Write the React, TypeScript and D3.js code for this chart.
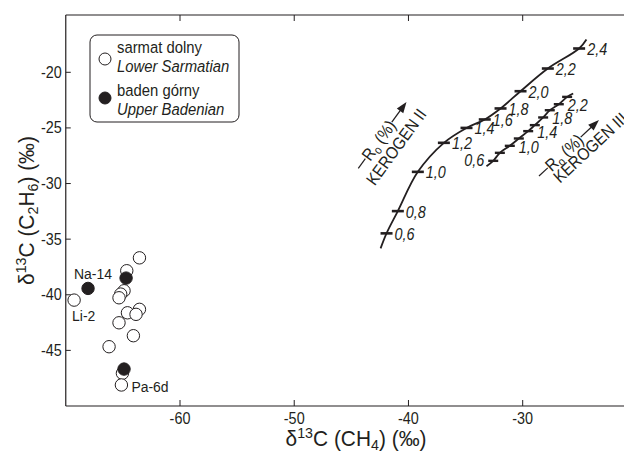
import React from "react";
import * as d3 from "d3";

// ---- data ----
const xTicks = [-60, -50, -40, -30];
const yTicks = [-20, -25, -30, -35, -40, -45];

// Lower Sarmatian (open circles): δ13C CH4 / δ13C C2H6
const lowerSarmatianX = [-69.27, -63.55, -64.66, -64.9, -65.19, -65.34, -64.6, -63.55, -63.85, -65.34, -64.08, -66.21, -65.04, -65.13];
const lowerSarmatianY = [-40.48, -36.68, -37.84, -39.64, -39.94, -40.27, -41.62, -41.31, -41.76, -42.52, -43.68, -44.67, -47.06, -48.11];

// Upper Badenian (filled circles)
const upperBadenianX = [-68.05, -64.72, -64.9];
const upperBadenianY = [-39.43, -38.5, -46.68];

// sample labels
const sampleNames = ["Na-14", "Li-2", "Pa-6d"];
const sampleX = [-68.05, -69.27, -65.13];
const sampleY = [-39.43, -40.48, -48.11];

// Kerogen II maturity line
const kerIIRo = ["0,6", "0,8", "1,0", "1,2", "1,4", "1,6", "1,8", "2,0", "2,2", "2,4"];
const kerIIX = [-41.92, -40.93, -39.18, -36.9, -34.92, -33.32, -31.94, -30.19, -27.8, -25.06];
const kerIIY = [-34.48, -32.48, -28.95, -26.34, -25.0, -24.24, -23.25, -21.7, -19.66, -17.86];
const kerIIEndsX = [-42.44, -24.42];
const kerIIEndsY = [-35.83, -17.05];

// Kerogen III maturity line
const kerIIIRo = ["0,6", "0,8", "1,0", "1,2", "1,4", "1,6", "1,8", "2,0", "2,2", "2,4"];
const kerIIIX = [-32.58, -32.0, -31.13, -30.34, -29.52, -28.94, -28.21, -27.63, -26.84, -26.11];
const kerIIIY = [-27.96, -27.24, -26.61, -25.95, -25.29, -24.75, -24.06, -23.41, -22.87, -22.21];
const kerIIIEndsX = [-33.17, -25.58];
const kerIIIEndsY = [-28.44, -21.9];
const kerIIILabelled = ["0,6", "1,0", "1,4", "1,8", "2,2"];

const FONT = "'Liberation Sans', Arial, sans-serif";
const SX = 0.9;
const ink = "#231f20";

type TProps = {
  x: number;
  y: number;
  size?: number;
  italic?: boolean;
  anchor?: "start" | "middle" | "end";
  sx?: number;
  children?: React.ReactNode;
};

function T({ x, y, size = 16, italic = false, anchor = "start", sx = SX, children }: TProps) {
  return (
    <text
      transform={`translate(${x},${y}) scale(${sx},1)`}
      x={0}
      y={0}
      fontSize={size}
      fontStyle={italic ? "italic" : "normal"}
      fontFamily={FONT}
      textAnchor={anchor}
      fill={ink}
    >
      {children}
    </text>
  );
}

export default function App() {
  const W = 624, H = 452;
  const x = d3.scaleLinear().domain([-60, -30]).range([180, 522.7]);
  const y = d3.scaleLinear().domain([-50, -20]).range([406, 72.3]);
  const left = x(-70), bottom = y(-50), top = 15, right = W;

  const line = d3.line<[number, number]>().x(d => x(d[0])).y(d => y(d[1])).curve(d3.curveCatmullRom.alpha(0.5));

  const ptsII: [number, number][] = [[kerIIEndsX[0], kerIIEndsY[0]], ...kerIIX.map((v, i) => [v, kerIIY[i]] as [number, number]), [kerIIEndsX[1], kerIIEndsY[1]]];
  const ptsIII: [number, number][] = [[kerIIIEndsX[0], kerIIIEndsY[0]], ...kerIIIX.map((v, i) => [v, kerIIIY[i]] as [number, number]), [kerIIIEndsX[1], kerIIIEndsY[1]]];

  const labelOffsets: Record<string, [number, number]> = {
    "Na-14": [-14, -9],
    "Li-2": [-2, 21],
    "Pa-6d": [10, 7],
  };

  const roLabel = (tx: number, ty: number, angle: number, kx: number, ky: number, name: string) => (
    <g transform={`translate(${tx},${ty}) rotate(${angle})`}>
      <line x1={0} y1={0} x2={12} y2={0} stroke={ink} strokeWidth={1.2} />
      <T x={12} y={6} size={17}>
        R<tspan fontSize={12} dy={3}>o</tspan><tspan dy={-3}> (%)</tspan>
      </T>
      <line x1={57} y1={0} x2={74} y2={0} stroke={ink} strokeWidth={1.3} />
      <path d="M82,0 L71,-4 L71,4 Z" fill={ink} />
      <T x={kx} y={ky} size={17}>{name}</T>
    </g>
  );

  return (
    <svg width={W} height={H} style={{ position: "absolute", left: 0, top: 0, background: "#fff" }}>
      <rect x={0} y={0} width={W} height={H} fill="#fff" />
      {/* frame */}
      <line x1={left} y1={top} x2={left} y2={bottom} stroke={ink} strokeWidth={1.2} />
      <line x1={left} y1={bottom} x2={right} y2={bottom} stroke={ink} strokeWidth={1.2} />
      <line x1={left} y1={top} x2={right} y2={top} stroke={ink} strokeWidth={1.2} />
      {xTicks.map(t => (
        <g key={"xt" + t}>
          <line x1={x(t)} x2={x(t)} y1={bottom} y2={bottom - 6} stroke={ink} strokeWidth={1} />
          <line x1={x(t)} x2={x(t)} y1={top} y2={top + 6} stroke={ink} strokeWidth={1} />
          <T x={x(t)} y={424} size={16} anchor="middle">{t}</T>
        </g>
      ))}
      {yTicks.map(t => (
        <g key={"yt" + t}>
          <line x1={left} x2={left + 5} y1={y(t)} y2={y(t)} stroke={ink} strokeWidth={1} />
          <T x={left - 4} y={y(t) + 5.5} size={16} anchor="end">{t}</T>
        </g>
      ))}
      {/* axis titles */}
      <T x={356} y={446} size={22} sx={0.95} anchor="middle">
        δ<tspan fontSize={15} dy={-8}>13</tspan><tspan dy={8}>C (CH</tspan><tspan fontSize={15} dy={4}>4</tspan><tspan dy={-4}>) (‰)</tspan>
      </T>
      <g transform="translate(34,210.5) rotate(-90)">
        <T x={0} y={0} size={22} sx={0.95} anchor="middle">
          δ<tspan fontSize={15} dy={-8}>13</tspan><tspan dy={8}>C (C</tspan><tspan fontSize={15} dy={4}>2</tspan><tspan dy={-4}>H</tspan><tspan fontSize={15} dy={4}>6</tspan><tspan dy={-4}>) (‰)</tspan>
        </T>
      </g>

      {/* legend */}
      <rect x={90} y={35} width={149} height={87} rx={7} fill="#fff" stroke={ink} strokeWidth={1} />
      <circle cx={105} cy={59} r={6} fill="#fff" stroke={ink} strokeWidth={1} />
      <circle cx={105} cy={98} r={6} fill={ink} stroke={ink} strokeWidth={1} />
      <T x={117} y={53} size={16.5}>sarmat dolny</T>
      <T x={117} y={72} size={16.5} italic>Lower Sarmatian</T>
      <T x={117} y={96} size={16.5}>baden górny</T>
      <T x={117} y={115} size={16.5} italic>Upper Badenian</T>

      {/* kerogen lines */}
      <path d={line(ptsII) || ""} fill="none" stroke={ink} strokeWidth={1.8} />
      <path d={line(ptsIII) || ""} fill="none" stroke={ink} strokeWidth={1.8} />
      {kerIIRo.map((r, i) => (
        <g key={"k2" + r}>
          <line x1={x(kerIIX[i]) - 6} x2={x(kerIIX[i]) + 6} y1={y(kerIIY[i])} y2={y(kerIIY[i])} stroke={ink} strokeWidth={2.6} />
          <T x={x(kerIIX[i]) + 8} y={y(kerIIY[i]) + 6.5} size={16} italic>{r}</T>
        </g>
      ))}
      {kerIIIRo.map((r, i) => (
        <g key={"k3" + r}>
          <line x1={x(kerIIIX[i]) - 5} x2={x(kerIIIX[i]) + 5} y1={y(kerIIIY[i])} y2={y(kerIIIY[i])} stroke={ink} strokeWidth={2.4} />
          {kerIIILabelled.includes(r) && (
            i === 0 ? (
              <T x={x(kerIIIX[i]) - 9} y={y(kerIIIY[i]) + 5} size={16} italic anchor="end">{r}</T>
            ) : (
              <T x={x(kerIIIX[i]) + 9} y={y(kerIIIY[i]) + 7} size={16} italic>{r}</T>
            )
          )}
        </g>
      ))}
      {roLabel(358.3, 168.3, -54, -5, 24, "KEROGEN II")}
      {roLabel(539, 176, -43, 10, 20, "KEROGEN III")}

      {/* points */}
      {lowerSarmatianX.map((v, i) => (
        <circle key={"ls" + i} cx={x(v)} cy={y(lowerSarmatianY[i])} r={6.2} fill="#fff" stroke={ink} strokeWidth={1} />
      ))}
      {upperBadenianX.map((v, i) => (
        <circle key={"ub" + i} cx={x(v)} cy={y(upperBadenianY[i])} r={6.2} fill={ink} stroke={ink} strokeWidth={1} />
      ))}
      {sampleNames.map((n, i) => (
        <T key={n} x={x(sampleX[i]) + labelOffsets[n][0]} y={y(sampleY[i]) + labelOffsets[n][1]} size={15.5}>{n}</T>
      ))}
    </svg>
  );
}
